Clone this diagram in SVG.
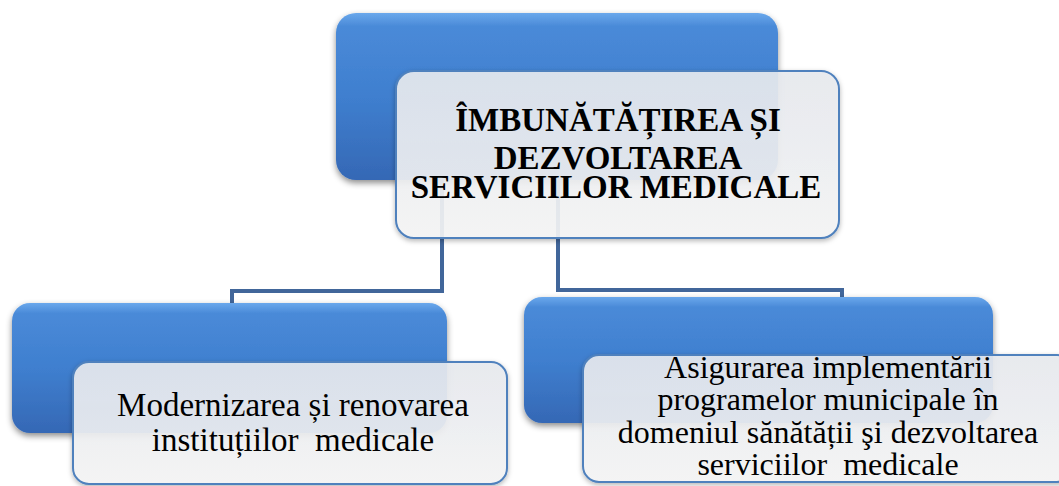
<svg xmlns="http://www.w3.org/2000/svg" width="1059" height="486" viewBox="0 0 1059 486">
<style>
.blue{fill:url(#gBlue);filter:url(#sh)}
.card{fill:url(#gCard);fill-opacity:0.9;stroke:#4f81bd;stroke-width:2;filter:url(#sh2)}
.conn{fill:none;stroke:#41669a;stroke-width:4;stroke-linejoin:miter}
.t1{font-family:"Liberation Serif","Times New Roman",serif;font-weight:bold;font-size:33px;fill:#000;text-anchor:middle}
.t2{font-family:"Liberation Serif","Times New Roman",serif;font-size:33px;fill:#000;text-anchor:middle;white-space:pre}
.t3{font-family:"Liberation Serif","Times New Roman",serif;font-size:32px;fill:#000;text-anchor:middle;white-space:pre}
</style>
<defs>
<linearGradient id="gBlue" x1="0" y1="0" x2="0" y2="1">
<stop offset="0" stop-color="#6aa8ec"/>
<stop offset="0.08" stop-color="#4a8ad8"/>
<stop offset="0.5" stop-color="#3f7fcf"/>
<stop offset="1" stop-color="#3568b5"/>
</linearGradient>
<linearGradient id="gCard" x1="0" y1="0" x2="0" y2="1">
<stop offset="0" stop-color="#e8ebf0"/>
<stop offset="1" stop-color="#f6f6f6"/>
</linearGradient>
<filter id="sh" x="-10%" y="-10%" width="120%" height="130%">
<feDropShadow dx="0" dy="3" stdDeviation="3" flood-color="#000" flood-opacity="0.45"/>
</filter>
<filter id="sh2" x="-10%" y="-10%" width="120%" height="130%">
<feDropShadow dx="0" dy="2" stdDeviation="2.5" flood-color="#000" flood-opacity="0.3"/>
</filter>
</defs>
<g id="connectors">
<path class="conn" d="M442,180 V291 H232 V304"/>
<path class="conn" d="M558,180 V290 H842 V298"/>
</g>
<g id="node-top">
<rect class="blue" x="336" y="13" width="442" height="167" rx="20"/>
<rect class="card" x="396" y="71" width="443" height="167" rx="18"/>
<text class="t1" x="618" y="131">ÎMBUNĂTĂȚIREA ȘI</text>
<text class="t1" x="618" y="169">DEZVOLTAREA</text>
<text class="t1" x="616" y="198">SERVICIILOR MEDICALE</text>
</g>
<g id="node-left">
<rect class="blue" x="12" y="303" width="435" height="130" rx="18"/>
<rect class="card" x="73" y="362" width="434" height="122" rx="16"/>
<text class="t2" x="293" y="416">Modernizarea și renovarea</text>
<text class="t2" x="293" y="451">instituțiilor  medicale</text>
</g>
<g id="node-right">
<rect class="blue" x="524" y="297" width="469" height="126" rx="18"/>
<rect class="card" x="583" y="355" width="490" height="127" rx="16"/>
<text class="t3" x="828" y="378">Asigurarea implementării</text>
<text class="t3" x="828" y="410">programelor municipale în</text>
<text class="t3" x="828" y="443">domeniul sănătății şi dezvoltarea</text>
<text class="t3" x="828" y="475">serviciilor  medicale</text>
</g>
</svg>
